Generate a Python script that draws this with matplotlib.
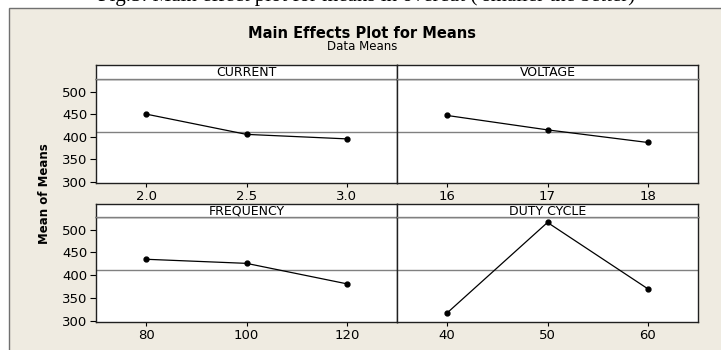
import matplotlib
matplotlib.use("Agg")
import matplotlib.pyplot as plt
from matplotlib.patches import Rectangle

# ── Data ──────────────────────────────────────────────────────────────────────
factors = ["CURRENT", "VOLTAGE", "FREQUENCY", "DUTY CYCLE"]
current_levels = [2.0, 2.5, 3.0]
current_means = [450, 405, 395]
voltage_levels = [16, 17, 18]
voltage_means = [447, 415, 387]
frequency_levels = [80, 100, 120]
frequency_means = [435, 426, 381]
duty_levels = [40, 50, 60]
duty_means = [317, 516, 370]
grand_mean = 411
y_ticks = [300, 350, 400, 450, 500]
x_tick_labels = [["2.0", "2.5", "3.0"], ["16", "17", "18"],
                 ["80", "100", "120"], ["40", "50", "60"]]

levels = [current_levels, voltage_levels, frequency_levels, duty_levels]
means = [current_means, voltage_means, frequency_means, duty_means]

# ── Figure ────────────────────────────────────────────────────────────────────
W, H = 721, 350
BG = "#EFEBE1"
fig = plt.figure(figsize=(W / 100, H / 100), dpi=100)
fig.patch.set_facecolor("white")


def rect(left, top, right, bottom):
    return [left / W, 1 - bottom / H, (right - left) / W, (bottom - top) / H]


# beige Minitab background with grey border on left/top
fig.patches.append(Rectangle((9 / W, -0.1), 1.0, 1 - 8 / H + 0.1,
                             transform=fig.transFigure, facecolor=BG,
                             edgecolor="#707070", linewidth=1.0, zorder=-5))

# caption from the paper (cut off at the top of the picture)
fig.text(367 / W, 1 - 1.5 / H, "Fig.5: Main effect plot for means in overcut ( smaller the better)",
         ha="center", va="baseline", fontsize=15, family="Liberation Serif")

fig.text(362 / W, 1 - 33 / H, "Main Effects Plot for Means", ha="center", va="center",
         fontsize=10.5, fontweight="bold", family="DejaVu Sans")
fig.text(362 / W, 1 - 47 / H, "Data Means", ha="center", va="center",
         fontsize=8.5, family="DejaVu Sans")
fig.text(44 / W, 1 - 194 / H, "Mean of Means", ha="center", va="center", rotation=90,
         fontsize=8.5, fontweight="bold", family="DejaVu Sans")

cols = [(96, 397), (397, 698)]
rows = [(65, 79, 183), (204, 217, 322)]
YLIM = (297, 528)

for i, name in enumerate(factors):
    r, c = divmod(i, 2)
    left, right = cols[c]
    htop, dtop, dbot = rows[r]

    ax = fig.add_axes(rect(left, dtop, right, dbot))
    ax.set_facecolor("white")
    lv = levels[i]
    span = lv[-1] - lv[0]
    ax.set_xlim(lv[0] - 0.25 * span, lv[-1] + 0.25 * span)
    ax.set_ylim(*YLIM)
    ax.axhline(grand_mean, color="#808080", linewidth=1.0, zorder=1)
    ax.plot(lv, means[i], color="black", linewidth=0.9, marker="o",
            markersize=3.5, zorder=3)
    ax.set_xticks(lv)
    ax.set_xticklabels(x_tick_labels[i])
    ax.set_yticks(y_ticks)
    if c == 0:
        ax.tick_params(axis="y", length=4, width=0.8, labelsize=9.5, pad=2)
    else:
        ax.tick_params(axis="y", length=0, labelleft=False)
    ax.tick_params(axis="x", length=3, width=0.8, labelsize=9.5, pad=2)
    for s in ax.spines.values():
        s.set_color("#202020")
        s.set_linewidth(1.0)

    hax = fig.add_axes(rect(left, htop, right, dtop))
    hax.set_facecolor("white")
    hax.set_xticks([])
    hax.set_yticks([])
    for s in hax.spines.values():
        s.set_color("#202020")
        s.set_linewidth(1.0)
    hax.spines["bottom"].set_color("#808080")
    hax.text(0.5, 0.45, name, ha="center", va="center", fontsize=9,
             transform=hax.transAxes, family="DejaVu Sans")

fig.savefig("out.png", dpi=100, facecolor=fig.get_facecolor())
